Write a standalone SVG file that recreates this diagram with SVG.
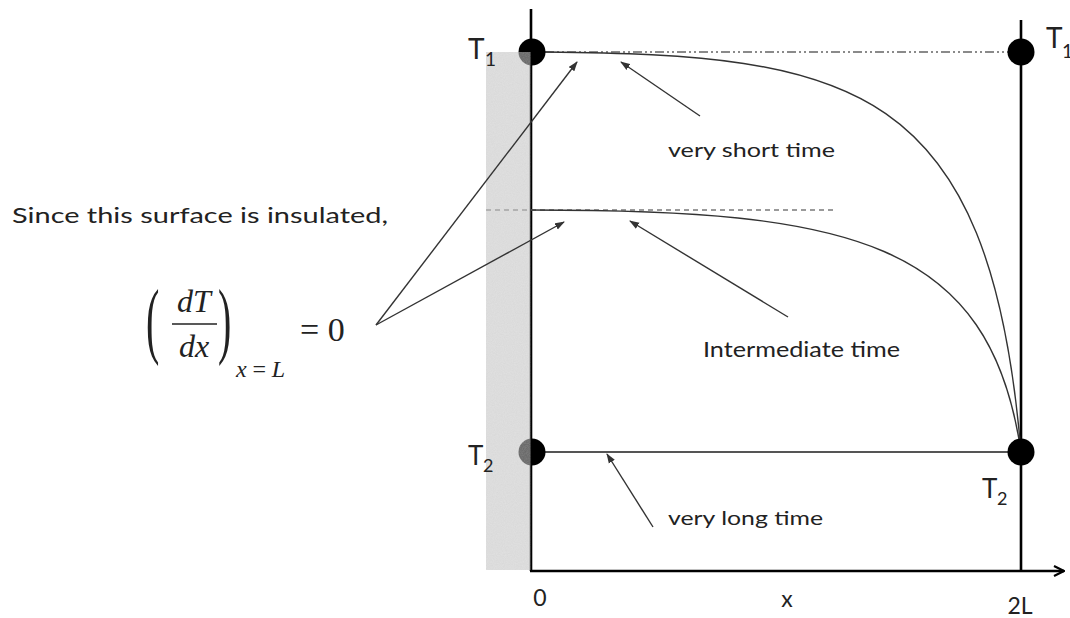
<svg xmlns="http://www.w3.org/2000/svg" width="1070" height="618" viewBox="0 0 1070 618">
<style>
.lbl{font-family:Lato,"Open Sans","Liberation Sans",sans-serif;fill:#222}
.math{font-family:"Liberation Serif","DejaVu Serif",serif;fill:#222}
.it{font-style:italic}
.axis{stroke:#000;stroke-width:2.6;fill:none}
.curve{stroke:#333;stroke-width:1.4;fill:none}
.ptr{stroke:#333;stroke-width:1.4;fill:none;marker-end:url(#ah)}
.dot{fill:#000}
</style>
<defs>
<marker id="ah" markerWidth="10" markerHeight="8" refX="9" refY="4" orient="auto" markerUnits="userSpaceOnUse">
<path d="M0,0.5 L10,4 L0,7.5 Z" fill="#333"/>
</marker>
<marker id="axarrow" markerWidth="12" markerHeight="12" refX="11" refY="6" orient="auto" markerUnits="userSpaceOnUse">
<path d="M1,1 L11,6 L1,11" fill="none" stroke="#000" stroke-width="2.2"/>
</marker>
<filter id="speckle" x="0" y="0" width="100%" height="100%">
<feTurbulence type="fractalNoise" baseFrequency="0.9" numOctaves="2" seed="3" result="n"/>
<feColorMatrix in="n" type="matrix" values="0 0 0 0 0.55  0 0 0 0 0.55  0 0 0 0 0.55  0 0 0 0.9 0" result="g"/>
<feComposite in="g" in2="SourceGraphic" operator="in"/>
</filter>
</defs>

<g id="axes">
<line class="axis" x1="531" y1="9" x2="531" y2="571"/>
<line class="axis" x1="1021" y1="20" x2="1021" y2="571"/>
<line class="axis" x1="530" y1="571" x2="1064" y2="571" marker-end="url(#axarrow)"/>
</g>

<g id="reference-lines">
<line x1="545" y1="52" x2="1008" y2="52" stroke="#8a8a8a" stroke-width="2" stroke-dasharray="9,3,2,3,2,3"/>
<line x1="486" y1="210" x2="833" y2="210" stroke="#7a7a7a" stroke-width="1.6" stroke-dasharray="5,4"/>
<line x1="545" y1="452" x2="1010" y2="452" stroke="#555" stroke-width="2"/>
</g>

<g id="curves">
<path class="curve" d="M545,52 C850,55 990,80 1021,452"/>
<path class="curve" d="M531,210 C850,210 990,240 1021,452"/>
</g>

<g id="nodes">
<circle id="T1-left" class="dot" cx="532" cy="52" r="13.5"/>
<circle id="T1-right" class="dot" cx="1021" cy="52" r="13.5"/>
<circle id="T2-left" class="dot" cx="532" cy="452" r="13.5"/>
<circle id="T2-right" class="dot" cx="1021" cy="452" r="13.5"/>
</g>

<g id="insulation">
<rect x="486" y="52" width="44.5" height="518" fill="#c4c4c4" fill-opacity="0.5"/>
<rect x="486" y="52" width="44.5" height="518" fill="#fff" filter="url(#speckle)" opacity="0.35"/>
</g>

<g id="connectors">
<line class="ptr" x1="376" y1="325" x2="577" y2="62"/>
<line class="ptr" x1="376" y1="325" x2="564" y2="222"/>
<line class="ptr" x1="700" y1="116" x2="621" y2="62"/>
<line class="ptr" x1="788" y1="317" x2="630" y2="221"/>
<line class="ptr" x1="653" y1="527" x2="607" y2="454"/>
</g>

<g id="labels">
<text class="lbl" x="468" y="59" font-size="28">T</text>
<text class="lbl" x="485" y="66" font-size="19">1</text>
<text class="lbl" x="1046" y="48" font-size="28">T</text>
<text class="lbl" x="1062" y="58" font-size="19">1</text>
<text class="lbl" x="468" y="465" font-size="26">T</text>
<text class="lbl" x="483" y="472" font-size="18">2</text>
<text class="lbl" x="982" y="498" font-size="26">T</text>
<text class="lbl" x="997" y="505" font-size="18">2</text>

<text class="lbl" x="668" y="157" font-size="20" textLength="167" lengthAdjust="spacingAndGlyphs">very short time</text>
<text class="lbl" x="703" y="357" font-size="21" textLength="197" lengthAdjust="spacingAndGlyphs">Intermediate time</text>
<text class="lbl" x="668" y="525" font-size="20" textLength="155" lengthAdjust="spacingAndGlyphs">very long time</text>
<text class="lbl" x="12" y="223" font-size="22" textLength="376" lengthAdjust="spacingAndGlyphs">Since this surface is insulated,</text>

<text class="lbl" x="540" y="606" font-size="23" text-anchor="middle">0</text>
<text class="lbl" x="787" y="607" font-size="23" text-anchor="middle">x</text>
<text class="lbl" x="1020" y="614" font-size="23" text-anchor="middle">2L</text>
</g>

<g id="equation">
<text class="math" font-size="40" transform="translate(146,348) scale(1,2.1)">(</text>
<text class="math it" x="194" y="312" font-size="32" text-anchor="middle">dT</text>
<line x1="172" y1="324" x2="217" y2="324" stroke="#222" stroke-width="1.6"/>
<text class="math it" x="194" y="357" font-size="32" text-anchor="middle">dx</text>
<text class="math" font-size="40" transform="translate(218,348) scale(1,2.1)">)</text>
<text class="math" x="236" y="377" font-size="24" textLength="49" lengthAdjust="spacing"><tspan class="it">x</tspan>=<tspan class="it">L</tspan></text>
<text class="math" x="300" y="341" font-size="34">= 0</text>
</g>
</svg>
